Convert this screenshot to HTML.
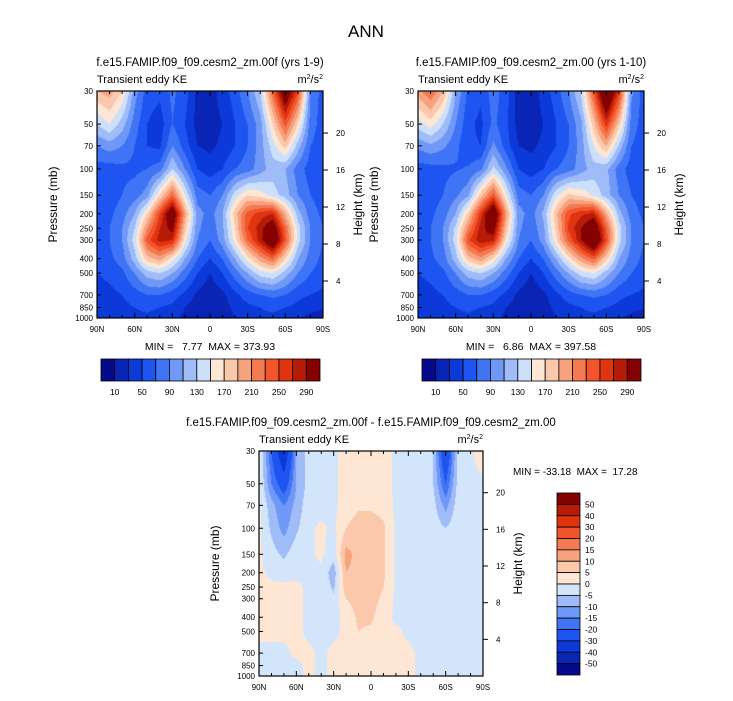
<!DOCTYPE html>
<html><head><meta charset="utf-8"><style>
body{margin:0;background:#fff;}
#wrap{position:relative;width:733px;height:701px;overflow:hidden;font-family:"Liberation Sans",sans-serif;}
canvas{position:absolute;}
svg{position:absolute;left:0;top:0;}
svg text{white-space:pre;}
</style></head><body>
<div id="wrap">
<canvas id="c1" width="226" height="227" style="left:97px;top:91px"></canvas>
<canvas id="c2" width="226" height="227" style="left:418px;top:91px"></canvas>
<canvas id="c3" width="224" height="225" style="left:259px;top:451px"></canvas>
<svg id="ov" width="733" height="701"></svg>
</div>
<script>
const lats=[90,80,70,60,50,40,30,20,10,0,-10,-20,-30,-40,-50,-60,-70,-80,-90];
const levs=[30,50,70,100,150,200,250,300,400,500,700,850,1000];
const keLevels=[10,30,50,70,90,110,130,150,170,190,210,230,250,270,290];
const keColors=["#050a8b","#0a25b5","#0b3ad8","#1e54f0","#3f74f5","#6f98f7","#9fbcf8","#cde0fb","#fde6d4","#fbc8ac","#f7a27f","#f47a52","#f2552b","#e03410","#b51b06","#860202"];
const keBarLabels=[10,50,90,130,170,210,250,290];
const dLevels=[-50,-40,-30,-20,-15,-10,-5,0,5,10,15,20,30,40,50];
const dColors=["#050a8b","#0a25b5","#0b3ad8","#1e54f0","#3f74f5","#6f98f7","#9fbcf8","#d3e5fb","#fde6d4","#fbc8ac","#f7a27f","#f47a52","#f2552b","#e03410","#b51b06","#860202"];
const pTicks=[30,50,70,100,150,200,250,300,400,500,700,850,1000];
const zTicks=[4,8,12,16,20];
const latTicks=[90,60,30,0,-30,-60,-90];
const latTickLabels=["90N","60N","30N","0","30S","60S","90S"];
const ke1=[
[190,200,170,100,60,55,75,60,25,20,40,60,90,130,230,330,250,90,60],
[130,150,120,80,50,40,70,50,22,20,30,50,70,100,170,240,170,80,60],
[90,100,90,70,50,45,90,60,30,25,35,50,70,100,140,180,120,70,60],
[60,60,65,65,70,80,130,90,50,40,50,70,80,100,120,110,80,60,55],
[55,60,70,80,100,170,230,150,80,70,90,140,170,160,140,120,90,70,60],
[55,65,80,110,170,250,330,200,100,80,110,180,240,260,270,190,120,80,65],
[60,70,90,130,210,270,300,180,95,75,105,170,250,280,320,230,140,90,70],
[60,70,90,140,240,280,270,160,90,70,100,160,230,280,340,240,140,90,70],
[55,65,80,120,180,200,160,110,70,50,70,110,160,200,230,170,110,80,65],
[50,55,65,90,120,130,110,80,50,30,50,80,110,140,150,120,90,70,60],
[40,45,50,60,70,70,60,45,25,15,25,45,60,70,75,70,55,50,45],
[35,40,45,50,55,50,45,30,20,15,20,35,45,50,55,50,45,35,30],
[30,35,40,45,45,40,35,25,20,15,20,30,40,45,45,40,30,25,25]];
const ke2=[
[200,230,190,110,65,55,80,60,20,15,40,60,90,135,240,360,260,95,60],
[140,160,130,90,55,45,75,55,22,18,30,50,70,105,180,260,180,80,60],
[95,105,95,75,55,50,95,60,30,25,35,50,70,100,150,190,125,70,60],
[60,62,65,68,72,85,135,95,50,40,50,70,80,100,120,115,80,60,55],
[55,60,70,85,105,180,240,155,80,70,90,145,175,165,145,120,90,70,60],
[55,65,80,110,175,260,340,205,100,80,115,185,245,265,275,195,120,80,65],
[60,70,90,135,215,280,310,185,95,75,105,175,255,290,330,235,140,90,70],
[60,70,90,140,245,285,275,165,90,70,100,165,235,290,350,245,140,90,70],
[55,65,80,120,180,205,165,110,70,50,70,110,160,205,235,175,110,80,65],
[50,55,65,90,120,130,110,80,50,30,50,80,110,140,150,120,90,70,60],
[40,45,50,60,70,70,60,45,25,15,25,45,60,70,75,70,55,50,45],
[35,40,45,50,55,50,45,30,20,15,20,35,45,50,55,50,45,35,30],
[30,35,40,45,45,40,35,25,20,15,20,30,40,45,45,40,30,25,25]];
const dke=[
[2,-20,-40,-10,-3,-2,-1,2,2,2,2,-1,-1,-2,-5,-30,-3,-1,3],
[1,-15,-25,-10,-3,-2,-1,2,3,3,2,-1,-1,-2,-5,-20,-3,-1,-1],
[1,-8,-15,-8,-2,-2,-1,2,4,4,3,-1,-1,-2,-3,-12,-2,-1,-1],
[1,-6,-12,-6,-1,1,-1,5,8,8,6,-1,-1,-1,-2,-5,-1,-1,-1],
[1,-3,-6,-2,-1,1,-3,12,8,9,6,-1,-4,-1,-1,-1,-1,-1,-1],
[1,-1,-2,-1,-1,-1,-8,10,8,8,6,-1,-3,-1,-1,-1,-1,-1,-1],
[1,1,1,1,-1,-1,-6,8,8,8,5,-1,-1,-3,-1,-1,-1,-1,-1],
[1,1,1,1,-1,-1,-4,5,7,7,4,-1,-1,-2,-1,-1,-1,-1,-1],
[1,1,1,1,-1,-1,-2,2,6,6,2,-1,-1,-1,-1,-1,-1,-1,-1],
[1,1,1,1,-1,-1,-1,1,5,4,1,1,-1,-1,-1,-1,-1,-1,-1],
[-1,-1,-1,1,1,-1,1,1,5,3,1,1,1,-1,-1,-1,-1,-1,-1],
[-1,-1,-1,-1,1,-1,1,1,4,2,1,1,1,-1,-1,-1,-1,-1,-1],
[-1,-1,-1,-1,1,-1,1,1,3,2,1,1,1,-1,-1,-1,-1,-1,-1]];

const L30=Math.log10(30),L1000=Math.log10(1000);
function yOf(p,top,h){return top+(Math.log10(p)-L30)/(L1000-L30)*h;}
function xOf(lat,left,w){return left+(90-lat)/180*w;}
function sample(g,lat,p){
  let fx=(90-lat)/10, i=Math.min(17,Math.floor(fx)), tx=fx-i;
  let lp=Math.log10(p), j=0;
  while(j<levs.length-2 && Math.log10(levs[j+1])<lp) j++;
  let a=Math.log10(levs[j]), b=Math.log10(levs[j+1]), ty=Math.max(0,Math.min(1,(lp-a)/(b-a)));
  let v0=g[j][i]*(1-tx)+g[j][i+1]*tx, v1=g[j+1][i]*(1-tx)+g[j+1][i+1]*tx;
  return v0*(1-ty)+v1*ty;
}
function colIdx(v,lv){let k=0;while(k<lv.length&&v>=lv[k])k++;return k;}
function hex(c){return [parseInt(c.slice(1,3),16),parseInt(c.slice(3,5),16),parseInt(c.slice(5,7),16)];}
function draw(id,g,lv,cols){
  const c=document.getElementById(id),ctx=c.getContext('2d'),W=c.width,H=c.height;
  const img=ctx.createImageData(W,H),rgb=cols.map(hex);
  for(let y=0;y<H;y++){const p=Math.pow(10,L30+(y+0.5)/H*(L1000-L30));
    for(let x=0;x<W;x++){const lat=90-(x+0.5)/W*180;const k=colIdx(sample(g,lat,p),lv);const o=(y*W+x)*4;
      img.data[o]=rgb[k][0];img.data[o+1]=rgb[k][1];img.data[o+2]=rgb[k][2];img.data[o+3]=255;}}
  ctx.putImageData(img,0,0);
}
draw('c1',ke1,keLevels,keColors);draw('c2',ke2,keLevels,keColors);draw('c3',dke,dLevels,dColors);

const NS='http://www.w3.org/2000/svg',svg=document.getElementById('ov');
function el(t,a,txt){const e=document.createElementNS(NS,t);for(const k in a)e.setAttribute(k,a[k]);if(txt!==undefined)e.textContent=txt;svg.appendChild(e);return e;}
function T(x,y,s,txt,anchor,name,rot){const a={x:x,y:y,'font-size':s,'text-anchor':anchor||'start',fill:'#000','font-family':'Liberation Sans, sans-serif'};if(rot)a.transform='rotate(-90 '+x+' '+y+')';const e=el('text',a,txt);return e;}
function L(x1,y1,x2,y2,name){const e=el('line',{x1:x1,y1:y1,x2:x2,y2:y2,stroke:'#000','stroke-width':1});}
function panel(left,top,w,h,title,pre){
  T(left+w/2,top-25,11.5,title,'middle',pre+'-title');
  T(left,top-8,11,'Transient eddy KE','start',pre+'-variable-label');
  const u=T(left+w,top-8,11,'','end',pre+'-units');
  u.innerHTML='m<tspan dy="-4" font-size="7">2</tspan><tspan dy="4">/s</tspan><tspan dy="-4" font-size="7">2</tspan>';
  const r=el('rect',{x:left,y:top,width:w,height:h,fill:'none',stroke:'#000','stroke-width':1.2});
  
  pTicks.forEach(p=>{const y=yOf(p,top,h);L(left,y,left+4,y,pre+'-p-tick');T(left-4,y+3,8,String(p),'end',pre+'-p-tick-label');});
  latTicks.forEach((la,i)=>{const x=xOf(la,left,w);L(x,top+h,x,top+h-5,pre+'-lat-tick');L(x,top,x,top+5,pre+'-lat-tick-top');T(x,top+h+14,8,latTickLabels[i],'middle',pre+'-lat-tick-label');});
  for(let la=-80;la<=80;la+=10){if(la%30){const x=xOf(la,left,w);L(x,top+h,x,top+h-3,pre+'-lat-minor');L(x,top,x,top+3,pre+'-lat-minor-top');}}
  zTicks.forEach(z=>{const p=1000*Math.exp(-z/7),y=yOf(p,top,h);L(left+w,y,left+w+5,y,pre+'-z-tick');T(left+w+13,y+3,8,String(z),'start',pre+'-z-tick-label');});
  T(left-40,top+h/2,12,'Pressure (mb)','middle',pre+'-y-axis-title',true);
  T(left+w+39,top+h/2,12,'Height (km)','middle',pre+'-right-axis-title',true);
}
T(366,37,17,'ANN','middle','figure-title');
panel(97,91,226,227,'f.e15.FAMIP.f09_f09.cesm2_zm.00f (yrs 1-9)','p1');
panel(418,91,226,227,'f.e15.FAMIP.f09_f09.cesm2_zm.00 (yrs 1-10)','p2');
panel(259,451,224,225,'f.e15.FAMIP.f09_f09.cesm2_zm.00f - f.e15.FAMIP.f09_f09.cesm2_zm.00','p3');
T(210,350,10.5,'MIN =   7.77  MAX = 373.93','middle','p1-min-max');
T(531,350,10.5,'MIN =   6.86  MAX = 397.58','middle','p2-min-max');
T(513,475,10,'MIN = -33.18  MAX =  17.28','start','p3-min-max');
function hbar(left,top,w,h,pre){
  const bw=w/keColors.length;
  keColors.forEach((c,i)=>{const r=el('rect',{x:left+i*bw,y:top,width:bw,height:h,fill:c,stroke:'#000','stroke-width':0.8});});
  keLevels.forEach((v,i)=>{if(keBarLabels.indexOf(v)>=0)T(left+(i+1)*bw,top+h+14,8.5,String(v),'middle',pre+'-colorbar-label');});
}
hbar(101,359,219,22,'p1');hbar(422,359,219,22,'p2');
(function(){const left=557,top=493,w=23,h=182,bh=h/dColors.length;
  dColors.slice().reverse().forEach((c,i)=>{const r=el('rect',{x:left,y:top+i*bh,width:w,height:bh,fill:c,stroke:'#000','stroke-width':0.8});});
  dLevels.slice().reverse().forEach((v,i)=>{T(left+w+5,top+(i+1)*bh+3,8.5,String(v),'start','p3-colorbar-label');});
})();
</script>
</body></html>
